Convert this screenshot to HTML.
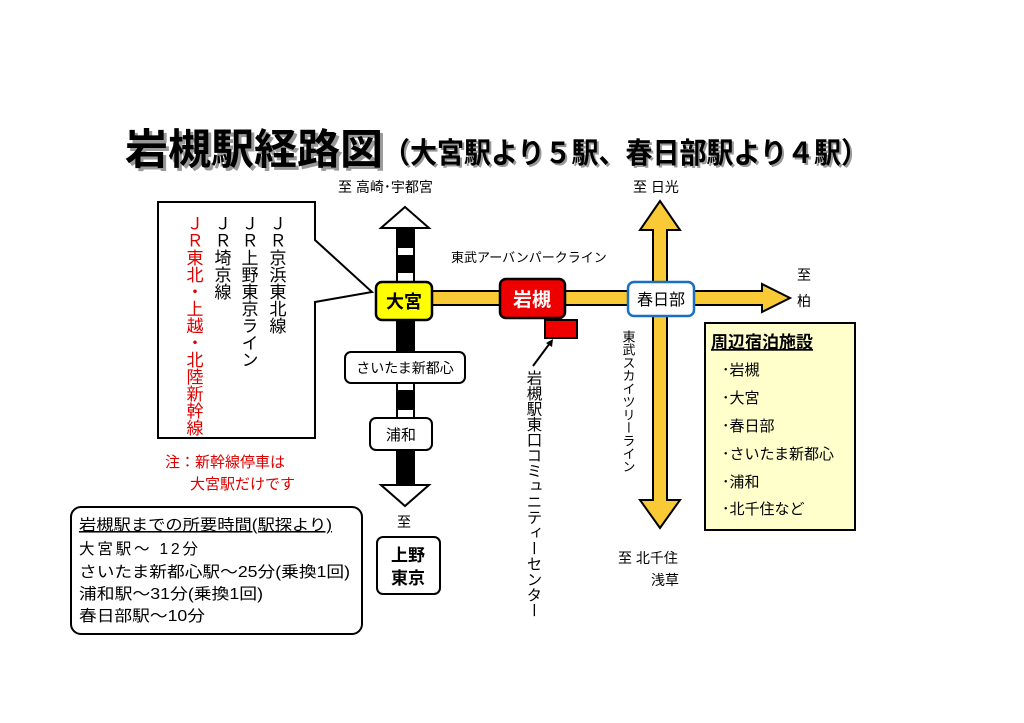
<!DOCTYPE html>
<html><head><meta charset="utf-8"><style>
html,body{margin:0;padding:0;background:#fff;}
svg{display:block;font-family:"Liberation Sans","Noto Sans CJK JP",sans-serif;}
</style></head><body>
<svg width="1024" height="723" viewBox="0 0 1024 723" xmlns="http://www.w3.org/2000/svg">
<rect width="1024" height="723" fill="#fff"/>
<!-- Title -->
<g font-weight="bold">
<text x="128" y="167" font-size="42" fill="#999" textLength="258" lengthAdjust="spacingAndGlyphs">岩槻駅経路図</text>
<text x="125" y="164" font-size="42" fill="#000" textLength="258" lengthAdjust="spacingAndGlyphs">岩槻駅経路図</text>
<text x="385" y="165" font-size="29" fill="#999" textLength="485" lengthAdjust="spacingAndGlyphs">（大宮駅より５駅、春日部駅より４駅）</text>
<text x="383" y="163" font-size="29" fill="#000" textLength="485" lengthAdjust="spacingAndGlyphs">（大宮駅より５駅、春日部駅より４駅）</text>
</g>
<g font-size="14" fill="#000">
<text x="338" y="192">至  高崎･宇都宮</text>
<text x="633" y="192">至  日光</text>
<text x="797" y="280">至</text>
<text x="797" y="306">柏</text>
<text x="451" y="262" font-size="13">東武アーバンパークライン</text>
<text x="618" y="563">至  北千住</text>
<text x="651" y="585">浅草</text>
<text x="397" y="527">至</text>
</g>
<!-- JR track -->
<polygon points="405,207 429,228 381,228" fill="#fff" stroke="#000" stroke-width="2"/>
<polygon points="381,485 429,485 405,506" fill="#fff" stroke="#000" stroke-width="2"/>
<rect x="397" y="228" width="17" height="257" fill="#fff" stroke="#000" stroke-width="2"/>
<g fill="#000">
<rect x="397" y="228" width="17" height="20"/>
<rect x="397" y="255" width="17" height="18"/>
<rect x="397" y="320" width="17" height="32"/>
<rect x="397" y="390" width="17" height="20"/>
<rect x="397" y="450" width="17" height="35"/>
</g>
<!-- Tobu horizontal -->
<polygon points="432,291 762,291 762,284 790,298 762,312 762,305 432,305" fill="#f9c936" stroke="#000" stroke-width="2"/>
<!-- Tobu vertical -->
<polygon points="660,201 680,230 667,230 667,500 680,500 660,528 640,500 653,500 653,230 640,230" fill="#f9c936" stroke="#000" stroke-width="2"/>
<!-- Stations -->
<rect x="376" y="282" width="56" height="38" rx="6" fill="#ffff00" stroke="#000" stroke-width="2.5"/>
<text x="404" y="308" font-size="18" font-weight="bold" text-anchor="middle">大宮</text>
<rect x="500" y="279" width="65" height="39" rx="6" fill="#ee0000" stroke="#000" stroke-width="2.5"/>
<text x="532" y="306" font-size="19" font-weight="bold" fill="#fff" text-anchor="middle">岩槻</text>
<rect x="545" y="320" width="32" height="18" fill="#ee0000" stroke="#000" stroke-width="2"/>
<line x1="533" y1="366" x2="550" y2="343" stroke="#000" stroke-width="2"/>
<polygon points="553,339 546,343 552,347" fill="#000"/>
<rect x="628" y="282" width="66" height="34" rx="6" fill="#fff" stroke="#1a6fc0" stroke-width="2.5"/>
<text x="661" y="305" font-size="16" text-anchor="middle">春日部</text>
<rect x="345" y="352" width="120" height="31" rx="6" fill="#fff" stroke="#000" stroke-width="2"/>
<text x="405" y="373" font-size="14" text-anchor="middle">さいたま新都心</text>
<rect x="370" y="418" width="62" height="32" rx="6" fill="#fff" stroke="#000" stroke-width="2"/>
<text x="401" y="440" font-size="15" text-anchor="middle">浦和</text>
<rect x="377" y="537" width="63" height="57" rx="6" fill="#fff" stroke="#000" stroke-width="2"/>
<text x="408" y="561" font-size="17" font-weight="bold" text-anchor="middle">上野</text>
<text x="408" y="584" font-size="17" font-weight="bold" text-anchor="middle">東京</text>
<!-- vertical labels -->
<text x="628" y="330" font-size="13" style="writing-mode:tb">東武スカイツリーライン</text>
<text x="533" y="370" font-size="15.5" style="writing-mode:tb">岩槻駅東口コミュニティーセンター</text>
<!-- Callout -->
<polygon points="158,202 315,202 315,240 372,292 315,302 315,438 158,438" fill="#fff" stroke="#000" stroke-width="2"/>
<g font-size="17" style="writing-mode:tb">
<text x="193" y="215" fill="#dd0000">ＪＲ東北・上越・北陸新幹線</text>
<text x="221" y="215">ＪＲ埼京線</text>
<text x="248" y="215">ＪＲ上野東京ライン</text>
<text x="276" y="215">ＪＲ京浜東北線</text>
</g>
<text x="165" y="467" font-size="15" fill="#dd0000">注：新幹線停車は</text>
<text x="190" y="489" font-size="15" fill="#dd0000">大宮駅だけです</text>
<!-- time box -->
<rect x="71" y="507" width="291" height="127" rx="10" fill="#fff" stroke="#000" stroke-width="2"/>
<g font-size="15.5">
<text x="79" y="530" text-decoration="underline" textLength="253" lengthAdjust="spacingAndGlyphs">岩槻駅までの所要時間(駅探より)</text>
<text x="79" y="554" textLength="119" lengthAdjust="spacing">大宮駅～  12分</text>
<text x="79" y="577" textLength="271" lengthAdjust="spacingAndGlyphs">さいたま新都心駅～25分(乗換1回)</text>
<text x="79" y="599" textLength="184" lengthAdjust="spacingAndGlyphs">浦和駅～31分(乗換1回)</text>
<text x="79" y="621" textLength="126" lengthAdjust="spacingAndGlyphs">春日部駅～10分</text>
</g>
<!-- Accommodation -->
<rect x="705" y="323" width="150" height="207" fill="#ffffcc" stroke="#000" stroke-width="2"/>
<text x="711" y="348" font-size="17" font-weight="bold" text-decoration="underline">周辺宿泊施設</text>
<g font-size="15">
<text x="722" y="375">･岩槻</text>
<text x="722" y="403">･大宮</text>
<text x="722" y="431">･春日部</text>
<text x="722" y="459">･さいたま新都心</text>
<text x="722" y="487">･浦和</text>
<text x="722" y="514">･北千住など</text>
</g>
</svg>
</body></html>
